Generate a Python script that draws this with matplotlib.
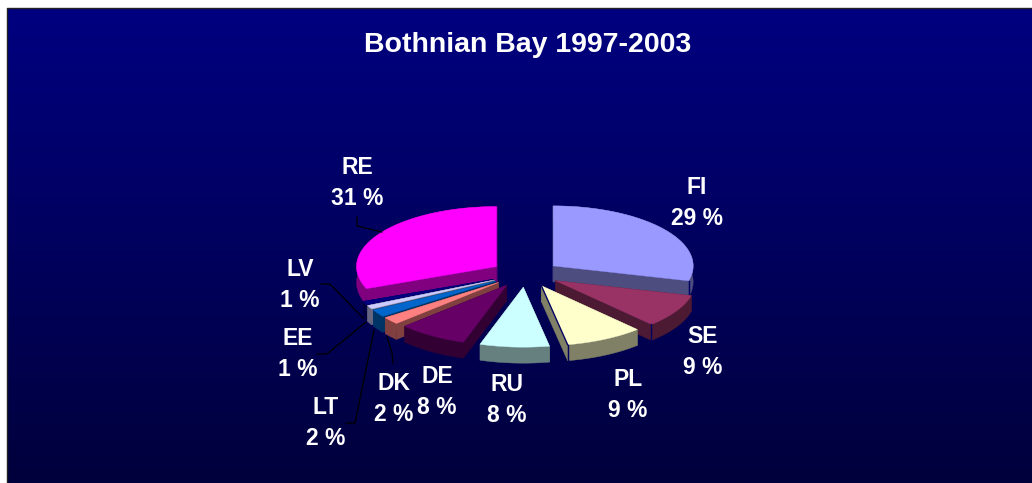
import numpy as np
import matplotlib.pyplot as plt
from matplotlib.patches import Polygon

# shares, clockwise from 12 o'clock
countries = ['FI', 'SE', 'PL', 'RU', 'DE', 'DK', 'LT', 'EE', 'LV', 'RE']
shares = [29, 9, 9, 8, 8, 2, 2, 1, 1, 31]
colors = ['#9999FF', '#993366', '#FFFFCC', '#CCFFFF', '#660066',
          '#FF8080', '#0066CC', '#CCCCFF', '#000080', '#FF00FF']

# pie geometry in pixels
cx, cy = 525.5, 274
rx, ry = 140, 60
depth = 16
explode_x = 0.25
explode_y = 0.22

fig = plt.figure(figsize=(10.32, 4.83), dpi=100, facecolor='white')
ax = fig.add_axes([0, 0, 1, 1])
ax.axis('off')

# background gradient, navy to darker navy
grad = np.linspace(0, 1, 256).reshape(-1, 1)
top_c = np.array([0, 0, 128]) / 255
bot_c = np.array([0, 0, 60]) / 255
img = top_c + grad[..., None] * (bot_c - top_c)
ax.imshow(img, extent=[7, 1032, 483, 8], aspect='auto', zorder=0)
ax.set_xlim(0, 1032)
ax.set_ylim(483, 0)
ax.plot([7, 7, 1032], [483, 8, 8], color='#222222', lw=1, zorder=1)

fracs = np.array(shares) / sum(shares)
ends = np.cumsum(fracs) * 2 * np.pi
starts = ends - fracs * 2 * np.pi
mids = (starts + ends) / 2

# paint the wedges back to front
order = np.argsort(-np.cos(mids))
for z, i in enumerate(order):
    ox = cx + explode_x * rx * np.sin(mids[i])
    oy = cy - explode_y * ry * np.cos(mids[i])
    t = np.linspace(starts[i], ends[i], 80)
    arc = np.column_stack([ox + rx * np.sin(t), oy - ry * np.cos(t)])
    apex = np.array([[ox, oy]])
    top = np.vstack([apex, arc])
    low = top + [0, depth]

    face = np.array(plt.matplotlib.colors.to_rgb(colors[i]))
    side = face * 0.5
    zb = 2 + z * 0.01
    # outer rim and the two cut faces
    end_edge = np.vstack([apex, arc[-1:]])
    for a, b in [(arc, arc + [0, depth]),
                 (top[:2], low[:2]),
                 (end_edge, end_edge + [0, depth])]:
        ax.add_patch(Polygon(np.vstack([a, b[::-1]]), closed=True, fc=side,
                             ec=side, lw=0.3, zorder=zb))
    ax.add_patch(Polygon(top, closed=True, fc=face, ec=face, lw=0.3, zorder=zb + 0.001))

    # dark corner line on the larger right hand wedges
    if countries[i] in ('FI', 'SE', 'PL'):
        ax.plot([arc[-1, 0], arc[-1, 0]], [arc[-1, 1], arc[-1, 1] + depth],
                color='#000060', lw=1, zorder=zb + 0.002)
    if countries[i] == 'PL':
        ax.plot([ox, arc[-1, 0]], [oy, arc[-1, 1]], color='#000060', lw=1,
                zorder=zb + 0.002)

# leader lines
leaders = [([357, 357, 382], [217, 226, 232]),
           ([321, 330, 363], [284, 284, 318]),
           ([317, 327, 366], [354, 354, 322]),
           ([346, 355, 374], [423, 423, 330]),
           ([393, 392, 387], [363, 353, 337])]
for xs, ys in leaders:
    ax.plot(xs, ys, color='black', lw=0.9, zorder=4)

font = 'Liberation Sans'
ax.text(528, 45, 'Bothnian Bay 1997-2003', color='white', fontsize=20.5,
        fontweight='bold', family=font, ha='center', va='center', zorder=5)

label_x = [697, 703, 628, 507, 437, 394, 326, 298, 300, 357]
label_y = [203, 352, 395, 400, 392, 399, 423, 354, 285, 183]
for name, share, lx, ly in zip(countries, shares, label_x, label_y):
    ax.text(lx, ly, f'{name}\n{share} %', color='white', fontsize=16.5,
            fontweight='bold', family=font, ha='center', va='center',
            linespacing=1.45, zorder=5)

fig.savefig('out.png', dpi=100, facecolor='white')
